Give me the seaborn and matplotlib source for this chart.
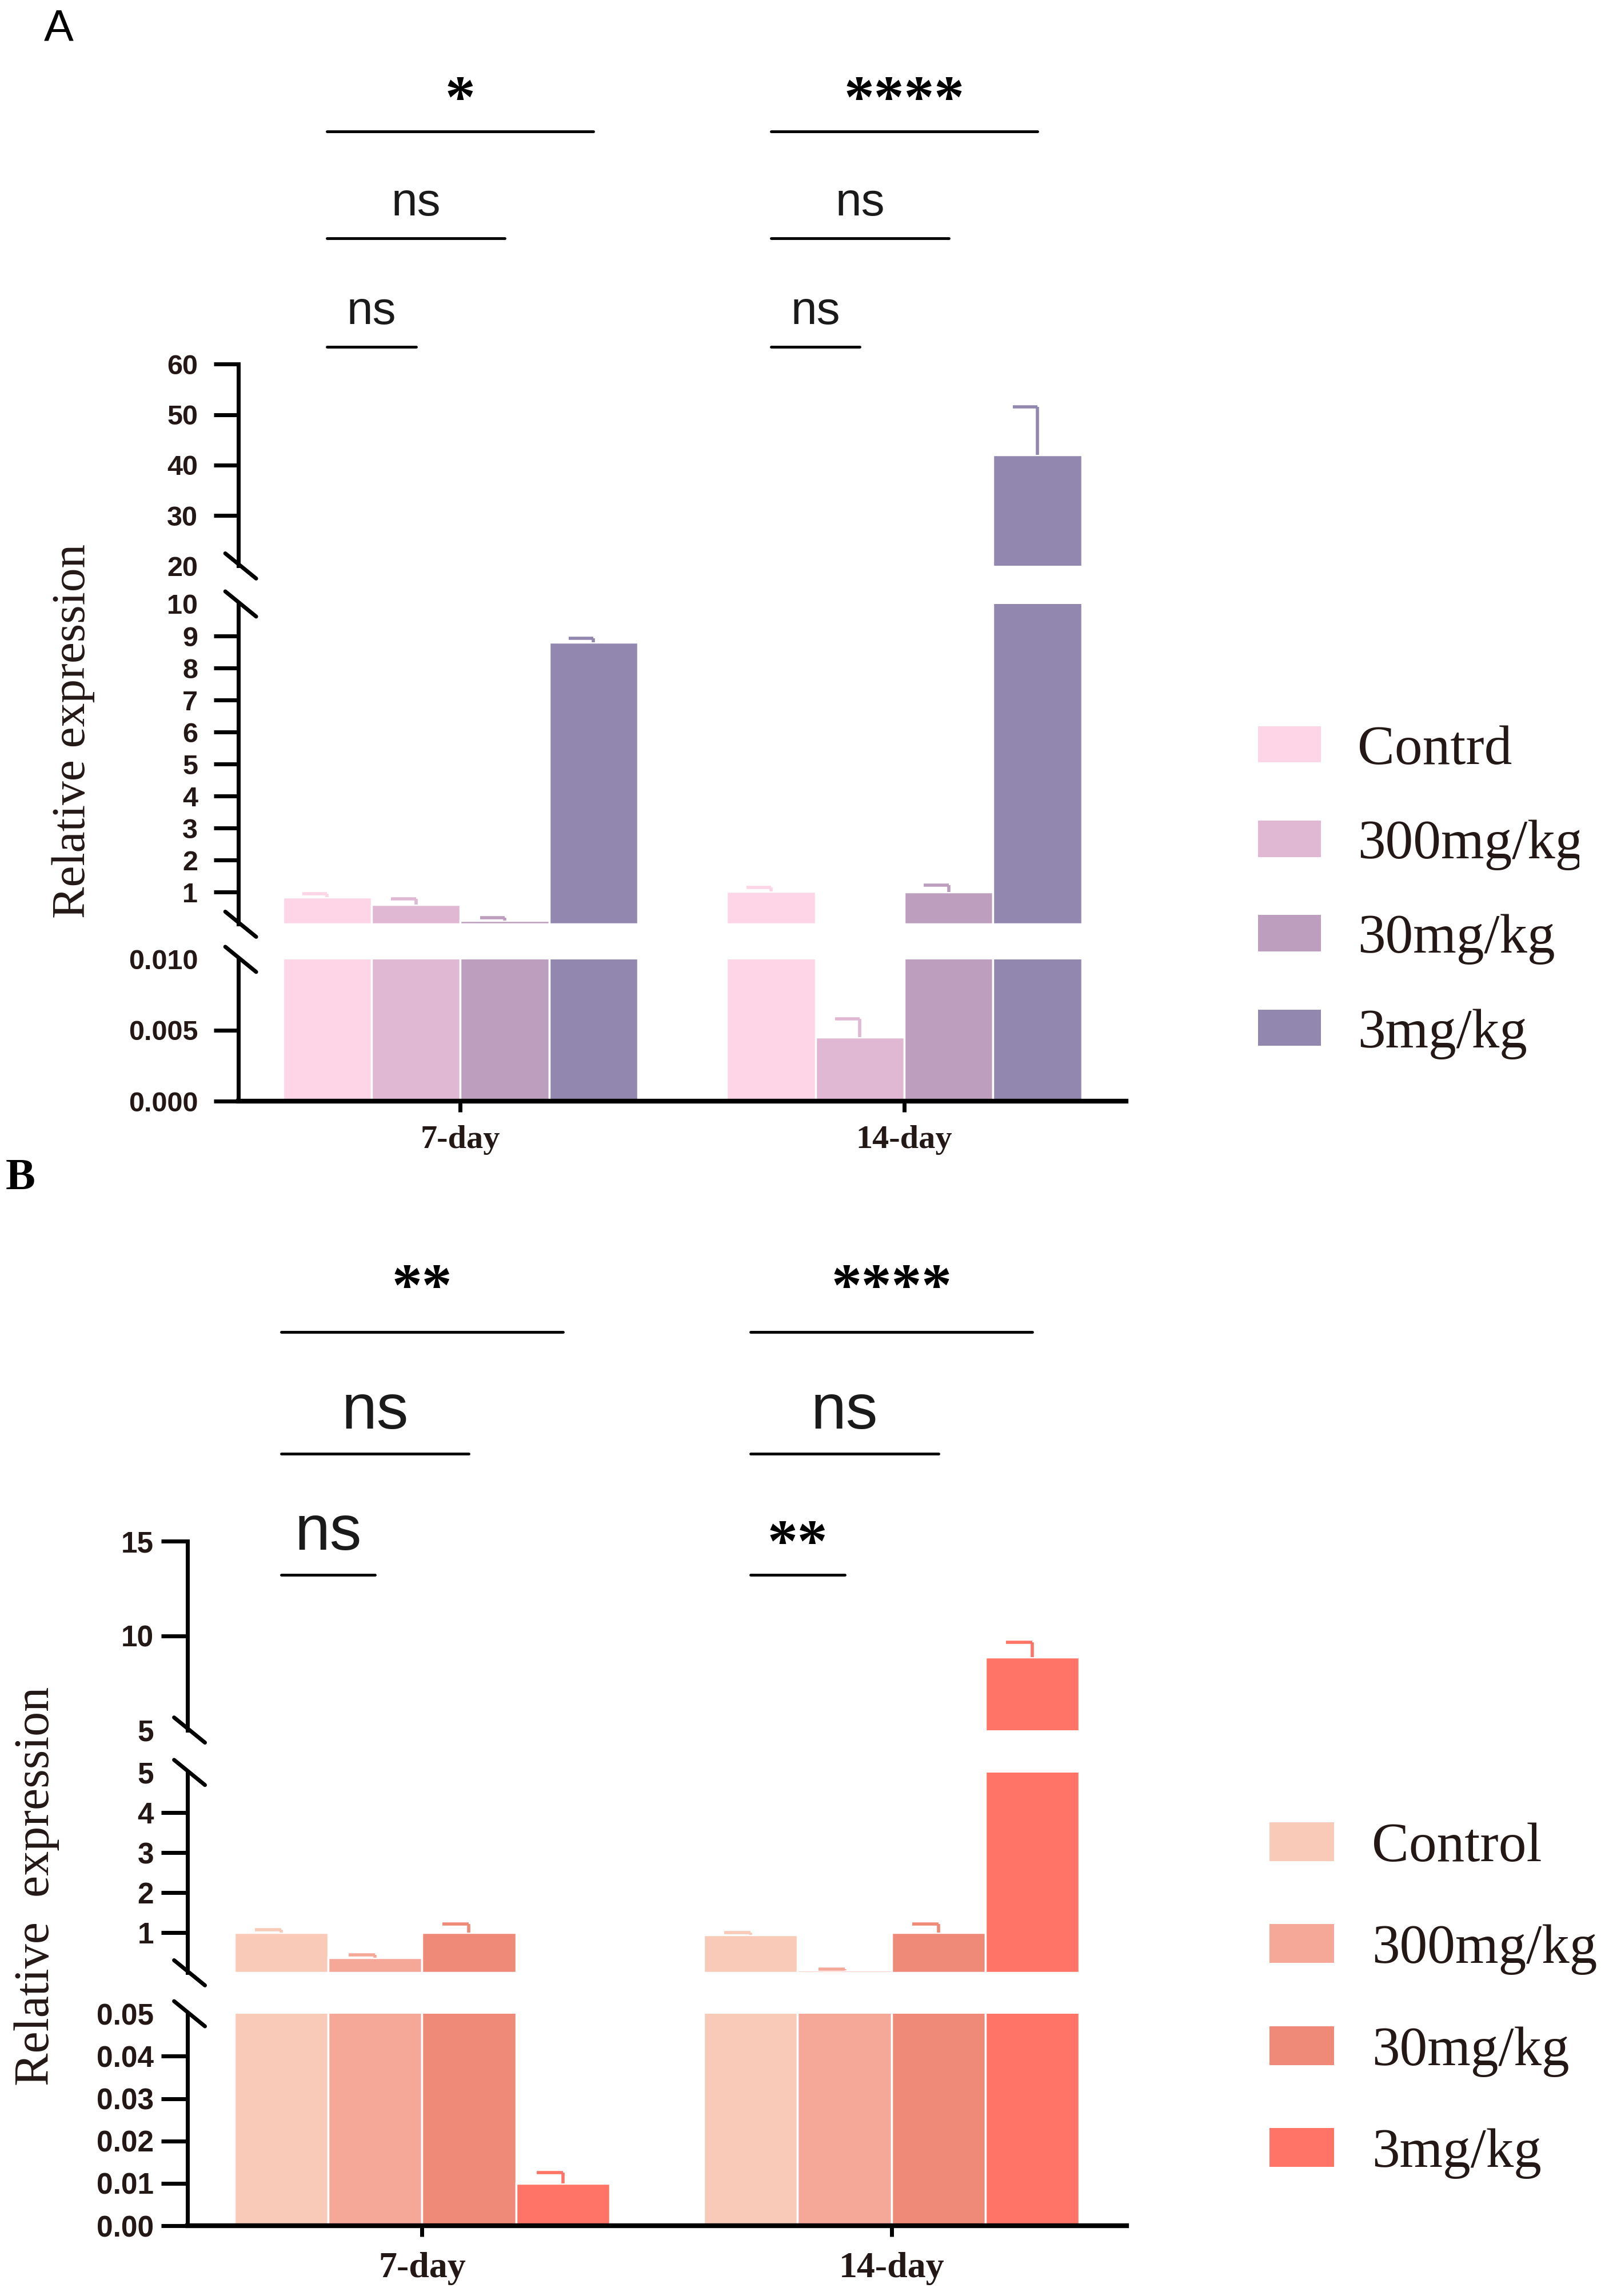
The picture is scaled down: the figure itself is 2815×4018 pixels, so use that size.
import numpy as np
import pandas as pd
import matplotlib
matplotlib.use("Agg")
import matplotlib.pyplot as plt
import seaborn as sns
from matplotlib.patches import Patch
from matplotlib.lines import Line2D
from matplotlib.transforms import Bbox, TransformedBbox, blended_transform_factory

# ---------------- data ----------------
days = ["7-day", "14-day"]

groups_a = ["Contrd", "300mg/kg", "30mg/kg", "3mg/kg"]
colors_a = ["#FDD5E6", "#E0B8D3", "#BD9EBE", "#9287AF"]
a_control = [0.85, 1.03]
a_control_err = [0.10, 0.12]
a_300 = [0.62, 0.0045]
a_300_err = [0.17, 0.0013]
a_30 = [0.11, 1.00]
a_30_err = [0.10, 0.22]
a_3 = [8.80, 42.0]
a_3_err = [0.12, 9.5]
a_sig_7 = ["ns", "ns", "*"]
a_sig_14 = ["ns", "ns", "****"]

groups_b = ["Control", "300mg/kg", "30mg/kg", "3mg/kg"]
colors_b = ["#F8CAB7", "#F6A898", "#F08A78", "#FF7466"]
b_control = [1.00, 0.95]
b_control_err = [0.08, 0.06]
b_300 = [0.38, 0.06]
b_300_err = [0.07, 0.03]
b_30 = [1.00, 1.00]
b_30_err = [0.22, 0.22]
b_3 = [0.010, 8.85]
b_3_err = [0.0025, 0.8]
b_sig_7 = ["ns", "ns", "**"]
b_sig_14 = ["**", "ns", "****"]

a_ticks_low = [0, 0.005, 0.010]
a_ticklabels_low = ["0.000", "0.005", "0.010"]
a_ticks_mid = [1, 2, 3, 4, 5, 6, 7, 8, 9, 10]
a_ticks_top = [20, 30, 40, 50, 60]
b_ticks_low = [0, 0.01, 0.02, 0.03, 0.04, 0.05]
b_ticklabels_low = ["0.00", "0.01", "0.02", "0.03", "0.04", "0.05"]
b_ticks_mid = [1, 2, 3, 4, 5]
b_ticks_top = [5, 10, 15]

# ---------------- style ----------------
sns.set_style("ticks")
plt.rcParams["font.family"] = ["Liberation Sans", "DejaVu Sans"]
TXT = "#231815"
SERIF = ["Liberation Serif", "DejaVu Serif"]

W_PX, H_PX = 2815, 4018
DW, DH = 1100.0, 1570.0  # reference layout grid
fig = plt.figure(figsize=(W_PX / 100, H_PX / 100), dpi=100)


def fx(d):
    return d / DW


def fy(d):
    return 1 - d / DH


def make_df(groups, series):
    rows = []
    for g, vals in zip(groups, series):
        for d, v in zip(days, vals):
            rows.append({"day": d, "group": g, "value": v})
    return pd.DataFrame(rows)


def bar_index(p, width, n):
    xc = p.get_x() + p.get_width() / 2
    di = int(round(xc))
    hi = int(np.floor((xc - di + width / 2) / (width / n)))
    return min(max(hi, 0), n - 1), di, xc


def draw_panel(x_left, x_right, segs, ylims, ticks, ticklabels, groups, colors,
               series, errors, sigs7, sigs14, levels, ns_size, ast_size,
               ns_gap, ast_gaps, tick_size, tick_len, tick_pad, xlab_size, xlab_pad):
    df = make_df(groups, series)
    axes = []
    width = 0.8
    n = len(groups)
    for k, ((yb, yt), yl, tk, tl) in enumerate(zip(segs, ylims, ticks, ticklabels)):
        ax = fig.add_axes([fx(x_left), fy(yb), fx(x_right) - fx(x_left), (yb - yt) / DH])
        sns.barplot(data=df, x="day", y="value", hue="group", order=days,
                    hue_order=groups, palette=colors, width=width, errorbar=None,
                    saturation=1, edgecolor="white", linewidth=2.5, legend=False, ax=ax)
        ax.set_xlim(-0.5, 1.5)
        ax.set_ylim(*yl)
        ax.set_yticks(tk)
        ax.set_yticklabels(tl)
        ax.set_xlabel("")
        ax.set_ylabel("")
        for s in ["top", "right"]:
            ax.spines[s].set_visible(False)
        ax.spines["left"].set_linewidth(5)
        ax.spines["left"].set_color("black")
        ax.tick_params(axis="y", length=tick_len, width=5, pad=tick_pad,
                       labelsize=tick_size, color="black", labelcolor=TXT)
        for lab in ax.get_yticklabels():
            lab.set_fontweight("bold")
        for t, loc in zip(ax.yaxis.get_major_ticks(), tk):
            if (k < len(segs) - 1 and np.isclose(loc, yl[1])) or (k > 0 and np.isclose(loc, yl[0])):
                t.tick1line.set_visible(False)
        if k == 0:
            ax.spines["bottom"].set_linewidth(6)
            ax.spines["bottom"].set_color("black")
            ax.tick_params(axis="x", length=14, width=5, pad=xlab_pad, color="black")
            ax.set_xticks([0, 1])
            ax.set_xticklabels(days, family=SERIF, fontweight="bold",
                               fontsize=xlab_size, color=TXT)
        else:
            ax.spines["bottom"].set_visible(False)
            ax.tick_params(axis="x", length=0, labelbottom=False)
        ax.patch.set_alpha(0)
        # upper error bars with a left half-cap, placed on the library's bars
        lo, hi_lim = yl
        for p in ax.patches:
            hi, di, xc = bar_index(p, width, n)
            bw = p.get_width()
            v = series[hi][di]
            e = errors[hi][di]
            if v <= lo + 0.01 * (hi_lim - lo):
                continue
            ax.vlines(xc, v, v + e, color=colors[hi], lw=4, zorder=3)
            ax.hlines(v + e, xc - 0.28 * bw, xc, color=colors[hi], lw=4, zorder=3)
        axes.append(ax)

    # axis break marks
    xa = fx(x_left) + 4 / W_PX
    dx, dy = 27 / W_PX, 22 / H_PX
    for k in range(len(segs) - 1):
        for yd in (segs[k][1], segs[k + 1][0]):
            y0 = fy(yd)
            fig.add_artist(Line2D([xa - dx, xa + dx], [y0 + dy, y0 - dy],
                                  transform=fig.transFigure, color="black", lw=5))

    # significance brackets: control centre -> treatment centre
    ax0 = axes[0]
    trans = blended_transform_factory(ax0.transData, fig.transFigure)
    centers = {}
    for p in ax0.patches:
        hi, di, xc = bar_index(p, width, n)
        centers[(hi, di)] = xc
    for di, sigs in enumerate([sigs7, sigs14]):
        for lvl, lab in enumerate(sigs):
            x1 = centers[(0, di)]
            x2 = centers[(lvl + 1, di)]
            yl = fy(levels[lvl])
            fig.add_artist(Line2D([x1, x2], [yl, yl], transform=trans, color="black", lw=3.5))
            if lab == "ns":
                fig.text((x1 + x2) / 2, yl + ns_gap / H_PX, lab, transform=trans,
                         ha="center", va="baseline", fontsize=ns_size, color="#1a1a1a")
            else:
                fig.text((x1 + x2) / 2, yl + ast_gaps[lvl] / H_PX, lab, transform=trans,
                         ha="center", va="baseline", fontsize=ast_size, color="black",
                         family=SERIF, fontweight="bold")
    return axes


# ---------------- panel A ----------------
axes_a = draw_panel(
    163, 770,
    segs=[(753, 656), (632, 413), (387, 249)],
    ylims=[(0, 0.010), (0, 10), (20, 60)],
    ticks=[a_ticks_low, a_ticks_mid, a_ticks_top],
    ticklabels=[a_ticklabels_low, [str(t) for t in a_ticks_mid], [str(t) for t in a_ticks_top]],
    groups=groups_a, colors=colors_a,
    series=[a_control, a_300, a_30, a_3],
    errors=[a_control_err, a_300_err, a_30_err, a_3_err],
    sigs7=a_sig_7, sigs14=a_sig_14,
    levels=[237, 163, 90],
    ns_size=59, ast_size=76, ns_gap=40, ast_gaps=[25, 25, 25],
    tick_size=35, tick_len=31, tick_pad=20, xlab_size=42, xlab_pad=16,
)

# ---------------- panel B ----------------
axes_b = draw_panel(
    128, 770,
    segs=[(1522, 1377), (1349, 1212), (1183, 1054)],
    ylims=[(0, 0.05), (0, 5), (5, 15)],
    ticks=[b_ticks_low, b_ticks_mid, b_ticks_top],
    ticklabels=[b_ticklabels_low, [str(t) for t in b_ticks_mid], [str(t) for t in b_ticks_top]],
    groups=groups_b, colors=colors_b,
    series=[b_control, b_300, b_30, b_3],
    errors=[b_control_err, b_300_err, b_30_err, b_3_err],
    sigs7=b_sig_7, sigs14=b_sig_14,
    levels=[1077, 994, 911],
    ns_size=80, ast_size=76, ns_gap=44, ast_gaps=[24, 40, 47],
    tick_size=37, tick_len=33, tick_pad=9, xlab_size=46, xlab_pad=19,
)

# ---------------- labels ----------------
fig.text(fx(50), fy(500), "Relative expression", rotation=90, ha="center", va="center",
         fontsize=60, color=TXT, family=SERIF)
fig.text(fx(25), fy(1290), "Relative  expression", rotation=90, ha="center", va="center",
         fontsize=62, color=TXT, family=SERIF)
fig.text(fx(40), fy(20), "A", ha="center", va="center", fontsize=56, color="black")
fig.text(fx(14), fy(806), "B", ha="center", va="center", fontsize=56, color="black",
         fontweight="bold", family=SERIF)

# ---------------- legends ----------------
handles_a = [Patch(facecolor=c, edgecolor="none") for c in colors_a]
leg_a = axes_a[1].legend(handles_a, groups_a, loc="upper left",
                         bbox_to_anchor=(fx(860), fy(496)), bbox_transform=fig.transFigure,
                         frameon=False, borderpad=0, borderaxespad=0,
                         handlelength=1.13, handleheight=0.63, handletextpad=0.66,
                         labelspacing=0.79,
                         prop={"family": SERIF, "size": 70})
clip = TransformedBbox(Bbox([[0, 0], [0.9815, 1]]), fig.transFigure)
for t in leg_a.get_texts():
    t.set_color(TXT)
    t.set_clip_on(True)
    t.set_clip_box(clip)

handles_b = [Patch(facecolor=c, edgecolor="none") for c in colors_b]
leg_b = axes_b[1].legend(handles_b, groups_b, loc="upper left",
                         bbox_to_anchor=(fx(868), fy(1246)), bbox_transform=fig.transFigure,
                         frameon=False, borderpad=0, borderaxespad=0,
                         handlelength=1.16, handleheight=0.70, handletextpad=0.68,
                         labelspacing=0.92,
                         prop={"family": SERIF, "size": 70})
for t in leg_b.get_texts():
    t.set_color(TXT)

fig.savefig("out.png", dpi=100, facecolor="white")
